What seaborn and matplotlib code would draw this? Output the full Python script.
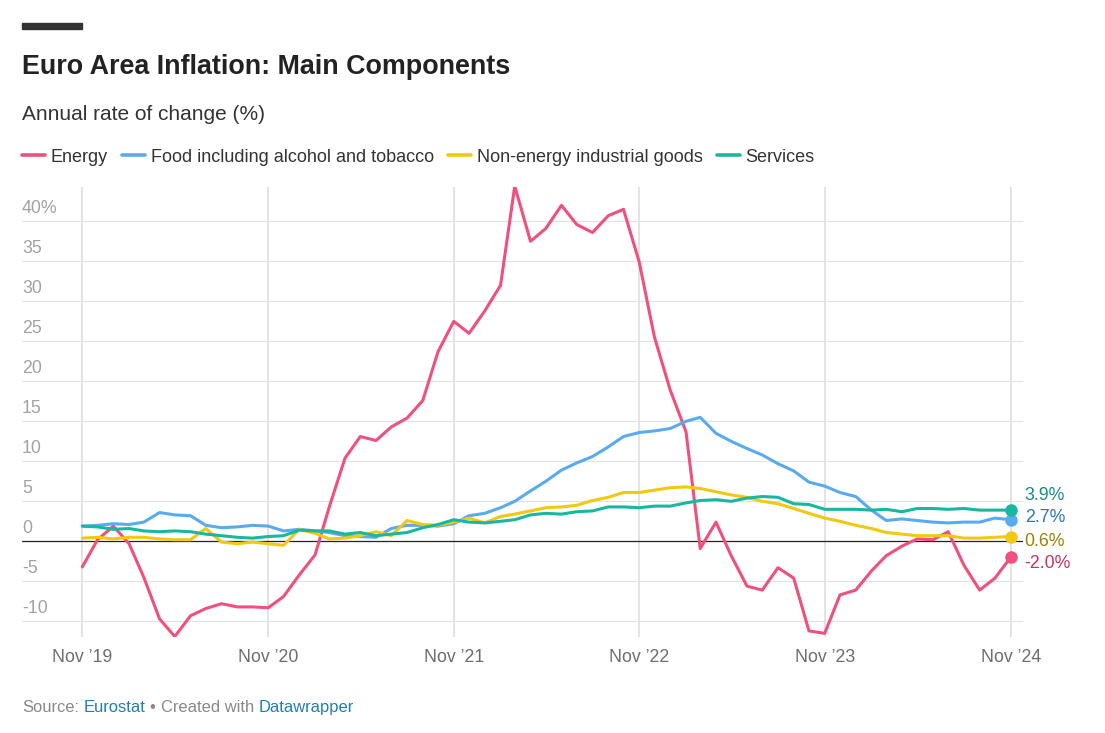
import pandas as pd
import numpy as np
import matplotlib
matplotlib.use('Agg')
import matplotlib.pyplot as plt
import matplotlib.dates as mdates
from matplotlib.patches import Rectangle
import seaborn as sns

# ---- data (annual rate of change, %), Nov 2019 .. Nov 2024 ----
months = pd.date_range('2019-11-01', periods=61, freq='MS')

energy = [-3.2, 0.2, 1.9, -0.3, -4.5, -9.7, -11.9, -9.3, -8.4, -7.8, -8.2, -8.2,
          -8.3, -6.9, -4.2, -1.7, 4.3, 10.4, 13.1, 12.6, 14.3, 15.4, 17.6, 23.7,
          27.5, 26.0, 28.8, 32.0, 44.4, 37.5, 39.1, 42.0, 39.6, 38.6, 40.7, 41.5,
          34.9, 25.5, 18.9, 13.7, -0.9, 2.4, -1.8, -5.6, -6.1, -3.3, -4.6, -11.2,
          -11.5, -6.7, -6.1, -3.7, -1.8, -0.6, 0.3, 0.2, 1.2, -3.0, -6.1, -4.6, -2.0]
food = [1.9, 2.0, 2.2, 2.1, 2.4, 3.6, 3.3, 3.2, 2.0, 1.7, 1.8, 2.0,
        1.9, 1.3, 1.5, 1.3, 1.1, 0.7, 0.6, 0.5, 1.6, 2.0, 2.0, 1.9,
        2.2, 3.2, 3.5, 4.2, 5.0, 6.3, 7.5, 8.9, 9.8, 10.6, 11.8, 13.1,
        13.6, 13.8, 14.1, 15.0, 15.5, 13.5, 12.5, 11.6, 10.8, 9.7, 8.8, 7.4,
        6.9, 6.1, 5.6, 3.9, 2.6, 2.8, 2.6, 2.4, 2.3, 2.4, 2.4, 2.9, 2.7]
neig = [0.4, 0.5, 0.3, 0.5, 0.5, 0.3, 0.2, 0.2, 1.6, -0.1, -0.3, -0.1,
        -0.3, -0.5, 1.5, 1.0, 0.3, 0.4, 0.7, 1.2, 0.7, 2.6, 2.1, 2.0,
        2.4, 2.9, 2.3, 3.1, 3.4, 3.8, 4.2, 4.3, 4.5, 5.1, 5.5, 6.1,
        6.1, 6.4, 6.7, 6.8, 6.6, 6.2, 5.8, 5.5, 5.0, 4.7, 4.1, 3.5,
        2.9, 2.5, 2.0, 1.6, 1.1, 0.9, 0.7, 0.7, 0.7, 0.4, 0.4, 0.5, 0.6]
services = [1.9, 1.8, 1.5, 1.6, 1.3, 1.2, 1.3, 1.2, 0.9, 0.7, 0.5, 0.4,
            0.6, 0.7, 1.4, 1.3, 1.3, 0.9, 1.1, 0.7, 0.9, 1.1, 1.7, 2.1,
            2.7, 2.4, 2.3, 2.5, 2.7, 3.3, 3.5, 3.4, 3.7, 3.8, 4.3, 4.3,
            4.2, 4.4, 4.4, 4.8, 5.1, 5.2, 5.0, 5.4, 5.6, 5.5, 4.7, 4.6,
            4.0, 4.0, 4.0, 3.9, 4.0, 3.7, 4.1, 4.1, 4.0, 4.1, 3.9, 3.9, 3.9]

series_names = ['Energy', 'Food including alcohol and tobacco',
                'Non-energy industrial goods', 'Services']
line_colors = ['#f0507e', '#5aabee', '#f2c811', '#18b79f']
label_colors = ['#c8335f', '#2878bd', '#9c8200', '#1a8c7c']
label_nudge = [-6.5, 2, -5, 15]   # pixels up, keeps end labels apart

y_ticks = [-10, -5, 0, 5, 10, 15, 20, 25, 30, 35, 40]
x_ticks = pd.to_datetime(['2019-11-01', '2020-11-01', '2021-11-01',
                          '2022-11-01', '2023-11-01', '2024-11-01'])

df = pd.DataFrame({'Month': np.tile(months, 4),
                   'Component': np.repeat(series_names, len(months)),
                   'Value': energy + food + neig + services})

# ---- figure ----
sns.set_style('white')
plt.rcParams['font.family'] = ['Liberation Sans', 'DejaVu Sans']
W, H = 1105, 733
fig = plt.figure(figsize=(W / 100, H / 100), dpi=100)
ax = fig.add_axes([22 / W, 1 - 637 / H, (1023 - 22) / W, (637 - 187) / H])

sns.lineplot(data=df, x='Month', y='Value', hue='Component',
             palette=dict(zip(series_names, line_colors)),
             linewidth=2.2, ax=ax)

ax.set_xlim(months[0] - pd.Timedelta(days=118.7), months[-1] + pd.Timedelta(days=24.2))
ax.set_ylim(-11.96, 44.29)

for s in ax.spines.values():
    s.set_visible(False)

# gridlines
for v in y_ticks:
    if v != 0:
        ax.axhline(v, color='#e3e3e3', lw=0.9, zorder=0)
for d in x_ticks:
    ax.axvline(d, color='#e3e3e3', lw=1.4, zorder=0)
ax.axhline(0, color='#222222', lw=0.9, zorder=1.5)

# y labels sit above their gridlines
ax.set_yticks([])
ax.set_ylabel('')
for v in y_ticks:
    ax.text(0, v + 1.6, f'{v}%' if v == 40 else str(v),
            transform=ax.get_yaxis_transform(), ha='left', va='center',
            fontsize=12.8, color='#a3a3a3')

ax.set_xticks(x_ticks)
ax.xaxis.set_major_formatter(mdates.DateFormatter('%b \u2019%y'))
ax.tick_params(axis='x', length=0, pad=9, labelsize=12.8, labelcolor='#6e6e6e')
ax.set_xlabel('')

# end dots and value labels
for vals, c, lc, dy in zip([energy, food, neig, services],
                           line_colors, label_colors, label_nudge):
    ax.plot(months[-1], vals[-1], 'o', color=c, markersize=8, zorder=5, clip_on=False)
    ax.annotate(f'{vals[-1]:.1f}%', xy=(months[-1], vals[-1]),
                xytext=(14, dy), textcoords='offset pixels',
                ha='left', va='center', fontsize=12.8, color=lc,
                annotation_clip=False)

# legend on top
handles, labels = ax.get_legend_handles_labels()
ax.get_legend().remove()
fig.legend(handles, labels, ncol=4, loc='center left',
           bbox_to_anchor=(22 / W, 1 - 157 / H), frameon=False,
           fontsize=13, handlelength=1.28, handletextpad=0.3,
           columnspacing=0.8, borderpad=0, borderaxespad=0,
           labelcolor='#333333')
for lh in fig.legends[0].get_lines():
    lh.set_linewidth(2.6)

# header
fig.patches.append(Rectangle((22 / W, 1 - 29 / H), 60 / W, 6 / H,
                             transform=fig.transFigure, color='#333333'))
fig.text(22 / W, 1 - 74 / H, 'Euro Area Inflation: Main Components',
         fontsize=19.4, fontweight='bold', color='#222222', va='baseline')
fig.text(22 / W, 1 - 120 / H, 'Annual rate of change (%)',
         fontsize=15, color='#333333', va='baseline')

# footer with link-coloured words, each piece chained after the previous one
pieces = [('Source:', '#888888', 0), ('Eurostat', '#1f7fb2', 4.6),
          ('\u2022', '#888888', 3.4), ('Created with', '#888888', 6.2),
          ('Datawrapper', '#1f7fb2', 4.6)]
prev = fig.text(22 / W, 1 - 715 / H, pieces[0][0], fontsize=11.9,
                color=pieces[0][1], va='bottom')
for txt, col, gap in pieces[1:]:
    prev = ax.annotate(txt, xy=(1, 0), xycoords=prev, xytext=(gap, 0),
                       textcoords='offset pixels', ha='left', va='bottom',
                       fontsize=11.9, color=col, annotation_clip=False)

fig.savefig('out.png', dpi=100)
